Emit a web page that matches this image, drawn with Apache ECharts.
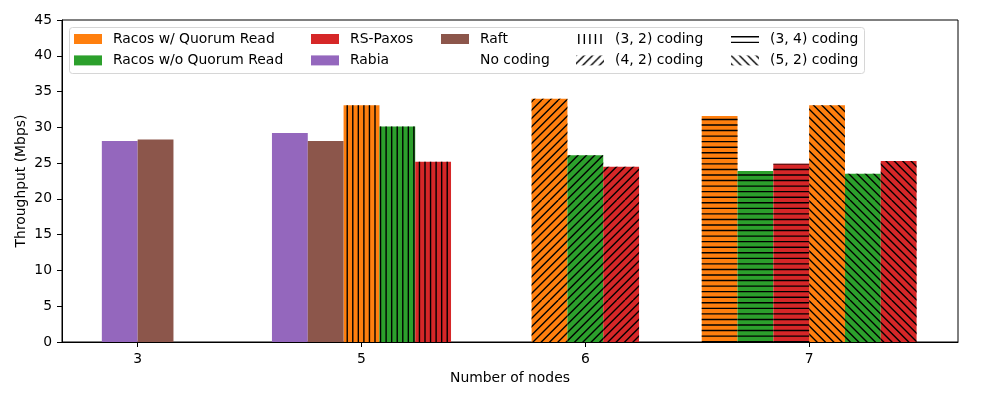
<!DOCTYPE html>
<html>
<head>
<meta charset="utf-8">
<script src="https://cdn.jsdelivr.net/npm/echarts@6/dist/echarts.min.js"></script>
<style>html,body{margin:0;padding:0;background:#fff;}#c{width:1000px;height:400px;}</style>
</head>
<body>
<div id="c"></div>
<script>
// ---- data ----
const categories = ['3', '5', '6', '7'];
const codings = ['(3, 2) coding', '(4, 2) coding', '(3, 4) coding', '(5, 2) coding'];
// baseline protocols (no coding) at node counts 3 and 5
const rabia = [28.1, 29.2];
const raft = [28.3, 28.1];
// coded protocols: one value per coding configuration
const codingNode = [1, 2, 3, 3];          // category index of each coding
const racosQR = [33.1, 34.0, 31.6, 33.1];
const racosNoQR = [30.1, 26.1, 23.9, 23.5];
const rsPaxos = [25.2, 24.5, 24.9, 25.3];

// ---- layout ----
const W = 0.16;                            // bar width in axis units
const baseOffset = { rabia: [-0.5, -2], raft: [0.5, -1] };
const codingStart = [0, -1, -2.5, 0.5];    // offset of first (orange) bar in each coding group
const colors = { qr: '#ff7f0e', noqr: '#2ca02c', rs: '#d62728', rabia: '#9467bd', raft: '#8c564b' };
const FONT = 'DejaVu Sans';
const FS = 13.9;

function hatchCanvas(kind, bg) {
  const n = 100;
  const c = document.createElement('canvas');
  c.width = n; c.height = n;
  const g = c.getContext('2d');
  if (bg) { g.fillStyle = bg; g.fillRect(0, 0, n, n); }
  g.strokeStyle = '#000';
  g.lineWidth = 1.39;
  g.beginPath();
  if (kind === 'v' || kind === 'h') {
    const k = 18;
    for (let i = 0; i < k; i++) {
      const p = (i + 0.5) * n / k;
      if (kind === 'v') { g.moveTo(p, 0); g.lineTo(p, n); }
      else { g.moveTo(0, p); g.lineTo(n, p); }
    }
  } else {
    const k = 12;
    for (let i = -k; i <= k; i++) {
      const c0 = i * n / k;
      if (kind === 'ne') { g.moveTo(c0, n); g.lineTo(c0 + n, 0); }
      else { g.moveTo(c0, 0); g.lineTo(c0 + n, n); }
    }
  }
  g.stroke();
  return c;
}
const hatchKinds = ['v', 'ne', 'h', 'nw'];
const hatchPatterns = hatchKinds.map(k => ({ image: hatchCanvas(k, null), repeat: 'repeat' }));
const legendPatterns = hatchKinds.map(k => ({ image: hatchCanvas(k, '#fff'), repeat: 'repeat' }));

function renderBar(params, api) {
  const x = api.value(0), v = api.value(1), off = api.value(2), h = api.value(3);
  const p0 = api.coord([x + (off - 0.5) * W, v]);
  const p1 = api.coord([x + (off + 0.5) * W, 0]);
  const shape = { x: p0[0], y: p0[1], width: p1[0] - p0[0], height: p1[1] - p0[1] };
  const children = [{ type: 'rect', shape: shape, style: { fill: api.visual('color') } }];
  if (h >= 0) children.push({ type: 'rect', shape: shape, style: { fill: hatchPatterns[h] } });
  return { type: 'group', children: children };
}

const rabiaData = rabia.map((v, i) => [i, v, baseOffset.rabia[i], -1]);
const raftData = raft.map((v, i) => [i, v, baseOffset.raft[i], -1]);
const qrData = racosQR.map((v, i) => [codingNode[i], v, codingStart[i], i]);
const noqrData = racosNoQR.map((v, i) => [codingNode[i], v, codingStart[i] + 1, i]);
const rsData = rsPaxos.map((v, i) => [codingNode[i], v, codingStart[i] + 2, i]);

function barSeries(name, color, data) {
  return { type: 'custom', name: name, renderItem: renderBar, itemStyle: { color: color },
    data: data, encode: { x: 0, y: 1 }, clip: true };
}
const series = [
  barSeries('Racos w/ Quorum Read', colors.qr, qrData),
  barSeries('Racos w/o Quorum Read', colors.noqr, noqrData),
  barSeries('RS-Paxos', colors.rs, rsData),
  barSeries('Rabia', colors.rabia, rabiaData),
  barSeries('Raft', colors.raft, raftData),
  barSeries('No coding', '#fff', []),
].concat(codings.map(n => barSeries(n, '#fff', [])));

const legendText = { color: '#000', fontFamily: FONT, fontSize: FS, lineHeight: 14, padding: [0, 0, 0, 6] };
function legendCol(left, items) {
  return { orient: 'vertical', left: left, top: 32, padding: 0, itemWidth: 28, itemHeight: 10, itemGap: 7.4,
    selectedMode: false, icon: 'rect', textStyle: legendText, data: items };
}
const legends = [
  legendCol(74, [{ name: 'Racos w/ Quorum Read', itemStyle: { color: colors.qr } },
                 { name: 'Racos w/o Quorum Read', itemStyle: { color: colors.noqr } }]),
  legendCol(311, [{ name: 'RS-Paxos', itemStyle: { color: colors.rs } },
                  { name: 'Rabia', itemStyle: { color: colors.rabia } }]),
  legendCol(441, [{ name: 'Raft', itemStyle: { color: colors.raft } },
                  { name: 'No coding', itemStyle: { color: '#fff' } }]),
  legendCol(576, [{ name: codings[0], itemStyle: { color: legendPatterns[0] } },
                  { name: codings[1], itemStyle: { color: legendPatterns[1] } }]),
  legendCol(731, [{ name: codings[2], itemStyle: { color: legendPatterns[2] } },
                  { name: codings[3], itemStyle: { color: legendPatterns[3] } }]),
];

const chart = echarts.init(document.getElementById('c'), null, { renderer: 'canvas' });
chart.setOption({
  animation: false,
  backgroundColor: '#fff',
  grid: { left: 62, right: 42, top: 20, bottom: 58, show: true, borderColor: '#000', borderWidth: 1, backgroundColor: 'transparent' },
  xAxis: {
    type: 'value', min: -0.338, max: 3.665,
    name: 'Number of nodes', nameLocation: 'middle', nameGap: 29, nameMoveOverlap: false,
    nameTextStyle: { color: '#000', fontFamily: FONT, fontSize: FS },
    axisLine: { show: true, onZero: false, lineStyle: { color: '#000', width: 1 } },
    axisTick: { show: true, length: 5, lineStyle: { color: '#000' }, customValues: [0, 1, 2, 3] },
    axisLabel: { color: '#000', fontFamily: FONT, fontSize: FS, margin: 10, customValues: [0, 1, 2, 3],
      formatter: v => categories[Math.round(v)] },
    splitLine: { show: false }
  },
  yAxis: {
    type: 'value', min: 0, max: 45, interval: 5,
    name: 'Throughput (Mbps)', nameLocation: 'middle', nameGap: 34, nameMoveOverlap: false,
    nameTextStyle: { color: '#000', fontFamily: FONT, fontSize: FS },
    axisLine: { show: true, onZero: false, lineStyle: { color: '#000', width: 1 } },
    axisTick: { show: true, length: 5, lineStyle: { color: '#000' } },
    axisLabel: { color: '#000', fontFamily: FONT, fontSize: FS, margin: 10 },
    splitLine: { show: false }
  },
  legend: legends,
  graphic: [{ type: 'rect', z: 3, shape: { x: 69.5, y: 27.5, width: 795, height: 46, r: 3 },
    style: { fill: 'rgba(255,255,255,0.8)', stroke: '#d6d6d6', lineWidth: 1 } }],
  series: series
});
</script>
</body>
</html>
